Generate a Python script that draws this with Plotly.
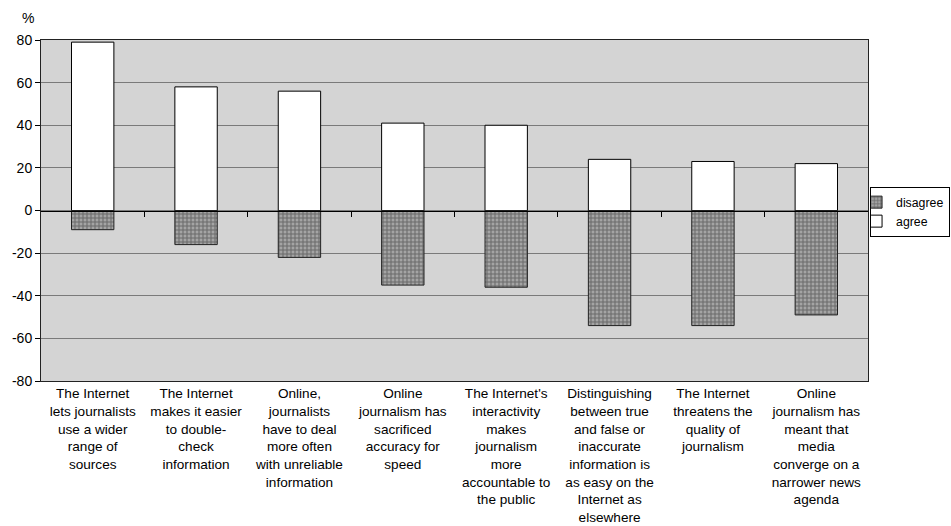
import plotly.graph_objects as go

categories = [
    "The Internet<br>lets journalists<br>use a wider<br>range of<br>sources",
    "The Internet<br>makes it easier<br>to double-<br>check<br>information",
    "Online,<br>journalists<br>have to deal<br>more often<br>with unreliable<br>information",
    "Online<br>journalism has<br>sacrificed<br>accuracy for<br>speed",
    "The Internet's<br>interactivity<br>makes<br>journalism<br>more<br>accountable to<br>the public",
    "Distinguishing<br>between true<br>and false or<br>inaccurate<br>information is<br>as easy on the<br>Internet as<br>elsewhere",
    "The Internet<br>threatens the<br>quality of<br>journalism",
    "Online<br>journalism has<br>meant that<br>media<br>converge on a<br>narrower news<br>agenda",
]
agree = [79, 58, 56, 41, 40, 24, 23, 22]
disagree = [-9, -16, -22, -35, -36, -54, -54, -49]
y_ticks = [-80, -60, -40, -20, 0, 20, 40, 60, 80]
y_tick_text = ["-80", "-60", "-40", "-20", "0", "20", "40", "60", "80"]

FONT = "Liberation Sans, Arial, sans-serif"
n = len(categories)

fig = go.Figure()
fig.add_trace(go.Bar(
    x=list(range(n)), y=agree, name="agree",
    marker=dict(color="white", line=dict(color="black", width=1)),
))
fig.add_trace(go.Bar(
    x=list(range(n)), y=disagree, name="disagree",
    marker=dict(color="#8a8a8a", line=dict(color="#222222", width=1),
                pattern=dict(shape="+", fgcolor="#2e2e2e", bgcolor="#a4a4a4",
                             size=4, solidity=0.45)),
))
# helper trace for the zero-line axis with boundary ticks
fig.add_trace(go.Scatter(
    x=[-0.5, n - 0.5], y=[0, 0], xaxis="x2", mode="markers",
    marker=dict(opacity=0), showlegend=False, hoverinfo="skip",
))

fig.update_layout(
    width=951, height=526,
    margin=dict(l=41, r=83, t=40, b=145, autoexpand=False),
    paper_bgcolor="white",
    plot_bgcolor="#d4d4d4",
    barmode="relative",
    bargap=0.59,
    font=dict(family=FONT, size=14, color="black"),
    xaxis=dict(
        range=[-0.5, n - 0.5],
        tickmode="array", tickvals=list(range(n)), ticktext=categories,
        ticks="", showline=True, linecolor="#222222", linewidth=1, mirror=True,
        showgrid=False, zeroline=False, tickfont=dict(size=13.6),
        fixedrange=True,
    ),
    xaxis2=dict(
        overlaying="x", anchor="free", position=0.5, side="bottom",
        range=[-0.5, n - 0.5],
        tickmode="array", tickvals=[i + 0.5 for i in range(n - 1)],
        ticks="outside", ticklen=5, tickcolor="black", tickwidth=1,
        showticklabels=False, showline=True, linecolor="black", linewidth=1,
        showgrid=False, zeroline=False,
    ),
    yaxis=dict(
        range=[-80, 80], tickmode="array", tickvals=y_ticks, ticktext=y_tick_text,
        ticks="outside", ticklen=5, tickcolor="black",
        showline=True, linecolor="#222222", linewidth=1, mirror=True,
        showgrid=True, gridcolor="#7a7a7a", gridwidth=1,
        zeroline=False, tickfont=dict(size=14),
    ),
    legend=dict(
        xref="container", x=0.999, xanchor="right",
        y=0.57, yanchor="top",
        traceorder="reversed",
        bordercolor="black", borderwidth=1, bgcolor="white",
        font=dict(size=12.3), indentation=-15,
        itemwidth=30,
    ),
    annotations=[dict(
        text="%", xref="paper", yref="paper", x=-0.0157, y=1.065,
        xanchor="center", yanchor="middle", showarrow=False,
        font=dict(size=14),
    )],
)

fig.write_html("out.html")
